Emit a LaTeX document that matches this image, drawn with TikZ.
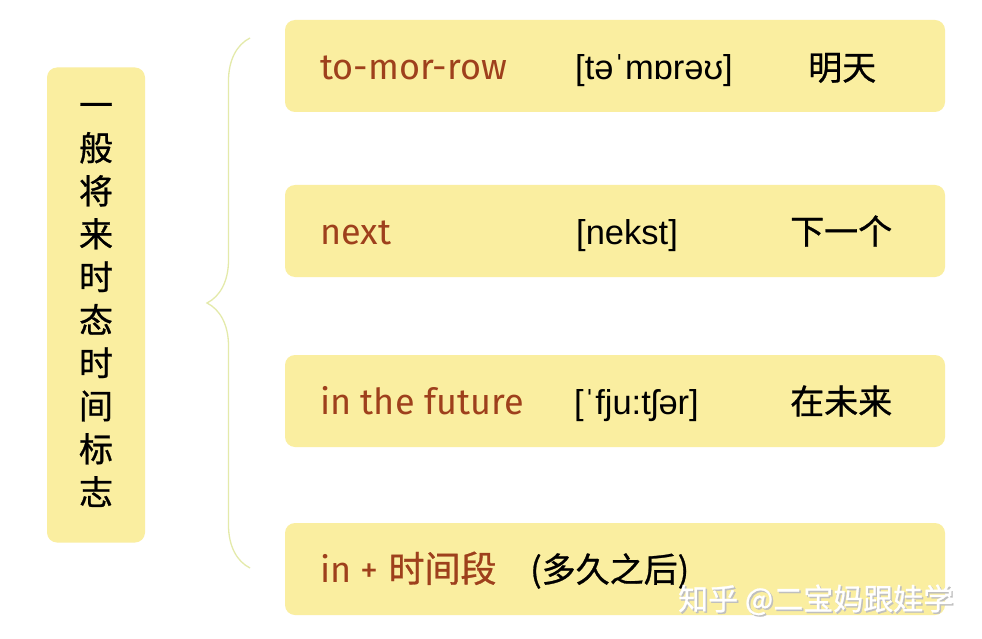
\documentclass[tikz,border=0pt]{standalone}
\usepackage{fontspec}
\setmainfont{Liberation Sans}
\newfontfamily\cjk{Noto Sans CJK SC}[FakeBold=0.8]
\newfontfamily\hand{Fira Sans}
\usetikzlibrary{decorations.pathreplacing}

\definecolor{padyellow}{RGB}{250,238,160}
\definecolor{wordred}{RGB}{158,64,28}
\definecolor{bracecol}{RGB}{228,234,170}

\tikzstyle{pad} = [rounded corners=10pt,fill=padyellow,minimum width=660pt,minimum height=92pt]
\tikzstyle{word} = [anchor=base west,inner sep=0pt,text=wordred,font=\hand\fontsize{36}{40}\selectfont]
\tikzstyle{ipa} = [anchor=base west,inner sep=0pt,font=\fontsize{34.5}{38}\selectfont]
\tikzstyle{mean} = [anchor=base west,inner sep=0pt,font=\cjk\fontsize{34}{40}\selectfont]
\tikzstyle{wmark} = [anchor=base west,inner sep=0pt,font=\cjk\fontsize{30}{34}\selectfont]

\begin{document}
\begin{tikzpicture}[x=1pt,y=-1pt]
	\fill[white] (0,0) rectangle (982,639);
	\useasboundingbox (0,0) rectangle (982,639);
	% left title
	\node[rounded corners=10pt,fill=padyellow,minimum width=98pt,minimum height=475pt,align=center,font=\cjk\fontsize{34}{43}\selectfont] (title) at (96,305)
		{一\\般\\将\\来\\时\\态\\时\\间\\标\\志};
	% brace
	\coordinate (bt) at (250,38);
	\coordinate (bb) at (250,568);
	\draw[bracecol,line width=1.3pt,decorate,decoration={brace,amplitude=43pt}] (bb) -- (bt);
	% rows
	\node[pad] (r1) at (615,66) {};
	\node[pad] (r2) at (615,231) {};
	\node[pad] (r3) at (615,401) {};
	\node[pad] (r4) at (615,569) {};
	\node[word] (w1) at (320,80) {to-mor-row};
	\node[ipa] (p1) at (575,80) {[təˈmɒrəʊ]};
	\node[mean] (m1) at (808,80) {明天};
	\node[word] (w2) at (320,244) {next};
	\node[ipa] (p2) at (576,244) {[nekst]};
	\node[mean] (m2) at (790,244) {下一个};
	\node[word] (w3) at (320,414) {in the future};
	\node[ipa] (p3) at (574,414) {[ˈfju:tʃər]};
	\node[mean] (m3) at (790,414) {在未来};
	\node[word] (w4) at (320,582) {in + {\cjk 时间段}};
	\node[mean] (m4) at (530,582) {(多久之后)};
	% watermark
	\node[wmark,text=black!25] (markshade) at (679.5,611.5) {知乎 @二宝妈跟娃学};
	\node[wmark,text=white] (mark) at (678,610) {知乎 @二宝妈跟娃学};
\end{tikzpicture}
\end{document}
